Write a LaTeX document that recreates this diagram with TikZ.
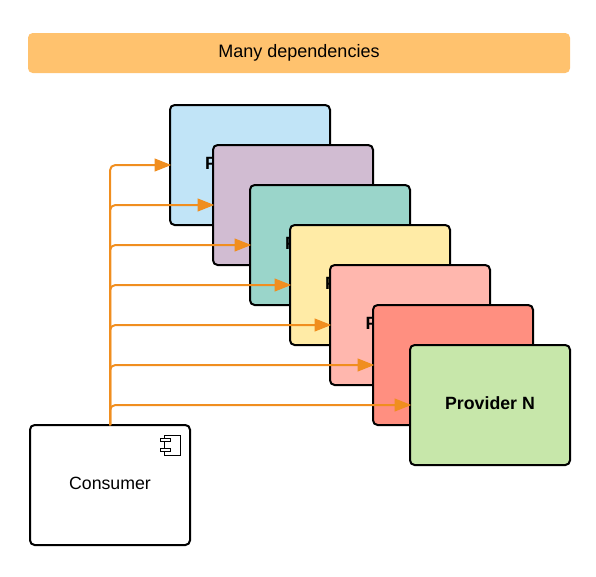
\documentclass[tikz,border=0pt]{standalone}
\usepackage{fontspec}
\setmainfont{Liberation Sans}
\usetikzlibrary{arrows.meta}
\definecolor{bannerfill}{HTML}{FFC26E}
\definecolor{depline}{HTML}{F08E1F}
\tikzset{
  provider/.style={draw=black, line width=1.5pt, rounded corners=3.5pt, minimum width=120pt, minimum height=90pt, inner sep=0pt, outer sep=0pt, text height=10pt, text depth=4pt, font=\bfseries\fontsize{13.3}{15}\selectfont},
  dep/.style={draw=depline, line width=1.5pt, rounded corners=4pt, shorten >=-1pt, -{Triangle[length=12.5pt,width=9.5pt]}}
}

\begin{document}
\begin{tikzpicture}[x=0.75pt, y=-0.75pt]
    \useasboundingbox (0, 0) rectangle (596, 576);

    \node[fill=bannerfill, rounded corners=3.5pt, minimum width=406.5pt, minimum height=30pt, inner sep=0pt, text height=10pt, text depth=4pt, font=\fontsize{13.5}{15}\selectfont] (banner) at (299, 53) {Many dependencies};

    \node[provider, fill={rgb,255:red,193;green,228;blue,247}] (p1) at (250, 165) {Provider A};
    \node[provider, fill={rgb,255:red,209;green,188;blue,210}] (p2) at (293, 205) {Provider B};
    \node[provider, fill={rgb,255:red,154;green,213;blue,202}] (p3) at (330, 245) {Provider C};
    \node[provider, fill={rgb,255:red,255;green,235;blue,166}] (p4) at (370, 285) {Provider D};
    \node[provider, fill={rgb,255:red,255;green,183;blue,174}] (p5) at (410, 325) {Provider E};
    \node[provider, fill={rgb,255:red,255;green,143;blue,128}] (p6) at (453, 365) {Provider F};
    \node[provider, fill={rgb,255:red,199;green,231;blue,170}] (pn) at (490, 405) {Provider N};

    \node[provider, fill=white, font=\fontsize{13.3}{15}\selectfont] (consumer) at (110, 485) {Consumer};

    % component icon
    \draw[black, line width=0.75pt, fill=white] (164, 435) rectangle (180.7, 455);
    \draw[black, line width=0.75pt, fill=white] (160, 438.3) rectangle (170.7, 441.8);
    \draw[black, line width=0.75pt, fill=white] (160, 448) rectangle (170.7, 451.7);

    \foreach \p in {p1, p2, p3, p4, p5, p6, pn}
        \draw[dep] (consumer.north) |- (\p.west);
\end{tikzpicture}
\end{document}
